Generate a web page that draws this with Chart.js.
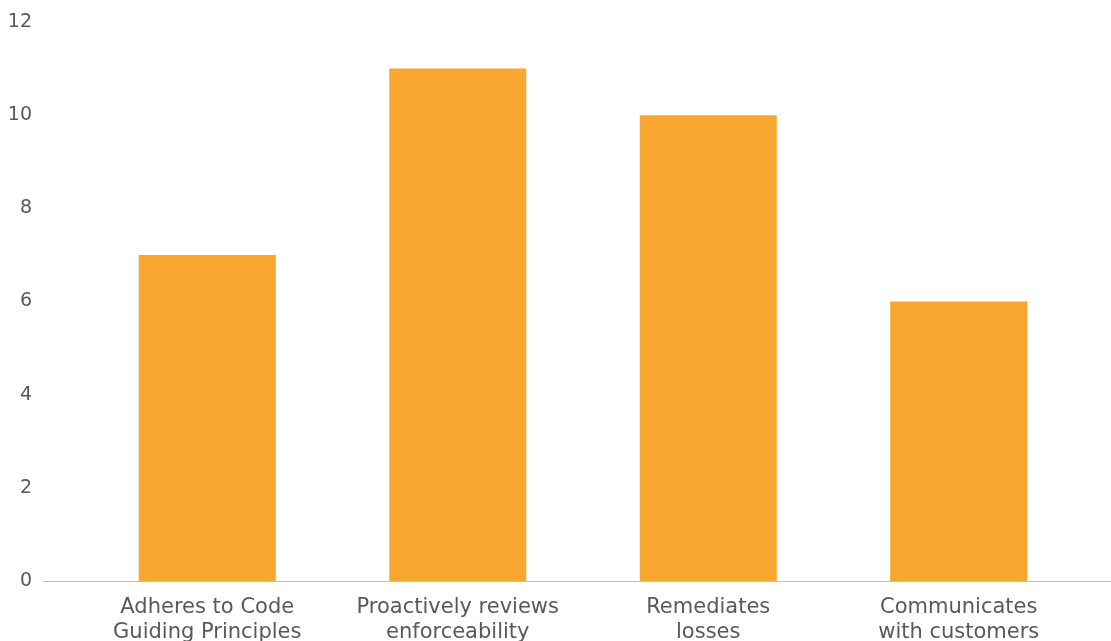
<!DOCTYPE html>
<html>
<head>
<meta charset="utf-8">
<script src="https://cdn.jsdelivr.net/npm/chart.js@4/dist/chart.umd.min.js"></script>
<style>
  html, body { margin: 0; padding: 0; background: #fff; }
  #wrap { width: 1111px; height: 641px; }
</style>
</head>
<body>
<div id="wrap"><canvas id="chart" width="1111" height="641"></canvas></div>
<script>
// categories (two-line labels) and counts
const categories = [
    ['Adheres to Code', 'Guiding Principles'],
    ['Proactively reviews', 'enforceability'],
    ['Remediates', 'losses'],
    ['Communicates', 'with customers'],
];
const counts = [7, 11, 10, 6];
const yTicks = [0, 2, 4, 6, 8, 10, 12];

const textColor = '#595959';
const fontFamily = '"DejaVu Sans", sans-serif';

// baseline runs wider than the plot area, from the y labels to the edge
const baselinePlugin = {
    id: 'baseline',
    afterDatasetsDraw(chart) {
        const { ctx, scales } = chart;
        const y = Math.round(scales.y.getPixelForValue(0)) + 0.5;
        ctx.save();
        ctx.strokeStyle = '#bfbfbf';
        ctx.lineWidth = 1;
        ctx.beginPath();
        ctx.moveTo(43, y);
        ctx.lineTo(chart.width, y);
        ctx.stroke();
        ctx.restore();
    },
};

new Chart(document.getElementById('chart'), {
    type: 'bar',
    data: {
        labels: categories,
        datasets: [{
            data: counts,
            backgroundColor: '#F8A630',
            borderWidth: 0,
            barPercentage: 0.547,
            categoryPercentage: 1,
        }],
    },
    options: {
        responsive: false,
        animation: false,
        layout: { padding: { top: 22, right: 27, left: 0, bottom: 0 } },
        plugins: {
            legend: { display: false },
            tooltip: { enabled: false },
        },
        scales: {
            x: {
                grid: { display: false },
                border: { display: false },
                ticks: {
                    color: textColor,
                    font: { family: fontFamily, size: 21, lineHeight: 1.19 },
                    padding: 6,
                    maxRotation: 0,
                    autoSkip: false,
                },
                afterFit(scale) {
                    scale.height = 60;
                    scale.paddingLeft = 0;
                    scale.paddingRight = 0;
                },
            },
            y: {
                min: 0,
                max: 12,
                grid: { display: false },
                border: { display: false },
                afterBuildTicks(scale) {
                    scale.ticks = yTicks.map(v => ({ value: v }));
                },
                ticks: {
                    color: textColor,
                    font: { family: fontFamily, size: 19 },
                    padding: 42,
                },
                afterFit(scale) {
                    scale.width = 82;
                    scale.paddingTop = 0;
                    scale.paddingBottom = 0;
                },
            },
        },
    },
    plugins: [baselinePlugin],
});
</script>
</body>
</html>
